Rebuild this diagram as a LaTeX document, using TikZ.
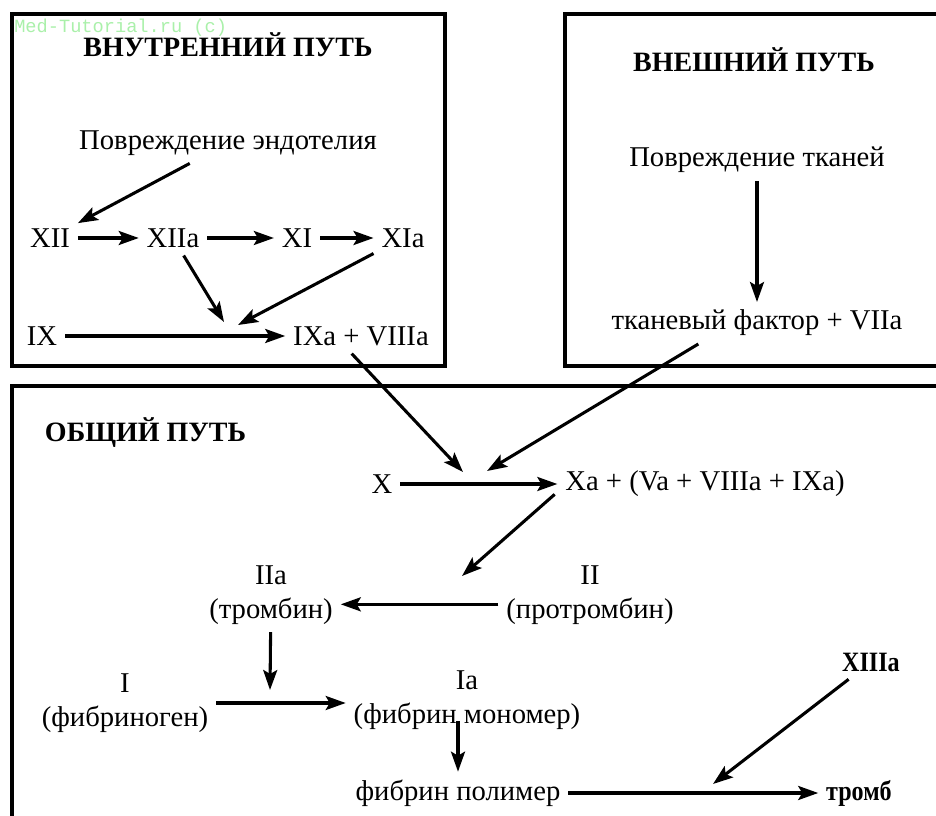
\documentclass[tikz,border=0pt]{standalone}
\usepackage{fontspec}
\setmainfont{Liberation Serif}
\newfontfamily\markfont{Liberation Mono}
\newfontfamily\narrowfont[FakeStretch=0.86]{Liberation Serif}
\usetikzlibrary{arrows.meta}
\definecolor{markgreen}{RGB}{170,240,170}

\begin{document}
\begin{tikzpicture}[x=0.75pt,y=0.75pt,yscale=-1,xscale=1,
  txt/.style={inner sep=0pt,outer sep=6pt,align=center,font=\fontsize{21.5}{25}\selectfont},
  ttl/.style={txt,font=\fontsize{21}{25}\selectfont\bfseries},
  nbf/.style={txt,font=\narrowfont\fontsize{21}{25}\selectfont\bfseries},
  arr/.style={line width=2.3pt,-{Stealth[length=15pt,width=10.5pt,inset=3pt]}},
  frm/.style={line width=3.2pt}]
\clip (0,0) rectangle (936,816);

%Shape: Frames
\draw[frm] (12,14) rectangle (445,366);
\draw[frm] (565,14) rectangle (945,366);
\draw[frm] (12,386) rectangle (945,830);

% Text Node: intrinsic pathway
\node[ttl] (inTitle) at (228,45) {ВНУТРЕННИЙ ПУТЬ};
\node[txt] (endo) at (228,143) {Повреждение эндотелия};
\node[txt] (XII) at (50,238) {XII};
\node[txt] (XIIa) at (173,238) {XIIa};
\node[txt] (XI) at (297,238) {XI};
\node[txt] (XIa) at (403,238) {XIa};
\node[txt] (IX) at (42,336) {IX};
\node[txt] (IXa) at (361,336) {IXa + VIIIa};
\coordinate (jA) at (224,322);
\coordinate (jB) at (238,325);

% Text Node: extrinsic pathway
\node[ttl] (exTitle) at (754,60) {ВНЕШНИЙ ПУТЬ};
\node[txt] (tissue) at (757,160) {Повреждение тканей};
\node[txt] (TF) at (757,323) {тканевый фактор + VIIa};

% Text Node: common pathway
\node[ttl,anchor=west] (cmTitle) at (37,433) {ОБЩИЙ ПУТЬ};
\node[txt] (X) at (382,484) {X};
\node[txt] (Xa) at (705,484) {Xa + (Va + VIIIa + IXa)};
\coordinate (jX1) at (463,472);
\coordinate (jX2) at (487,471);
\node[txt] (IIa) at (271,595) {IIa\\(тромбин)};
\node[txt] (II) at (590,595) {II\\(протромбин)};
\coordinate (jII) at (462,576);
\node[txt] (I) at (125,703) {I\\(фибриноген)};
\node[txt] (Ia) at (467,700) {Ia\\(фибрин мономер)};
\coordinate (jI) at (270,690);
\node[txt] (poly) at (458,793) {фибрин полимер};
\node[nbf] (XIIIa) at (871,662) {XIIIa};
\node[nbf] (clot) at (859,793) {тромб};
\coordinate (jC) at (713,784);

%Straight Lines: intrinsic
\draw[arr] (endo) -- (XII);
\draw[arr] (XII) -- (XIIa);
\draw[arr] (XIIa) -- (XI);
\draw[arr] (XI) -- (XIa);
\draw[arr] (XIIa) -- (jA);
\draw[arr] (XIa) -- (jB);
\draw[arr] (IX) -- (IXa);
%Straight Lines: extrinsic
\draw[arr] (tissue) -- (TF);
%Straight Lines: common
\draw[arr] ([xshift=-7pt]IXa.south) -- (jX1);
\draw[arr] ([xshift=-44pt]TF.south) -- (jX2);
\draw[arr] (X) -- (Xa);
\draw[arr] ([xshift=-2pt,yshift=-8pt]Xa.south west) -- (jII);
\draw[arr] ([yshift=7pt]II.west) -- ([yshift=7pt]IIa.east);
\draw[arr] (IIa) -- (jI);
\draw[arr] (I.east) -- (I.east -| Ia.west);
\draw[arr,shorten <=-12pt] (Ia.south -| poly.north) -- (poly);
\draw[arr] (poly) -- (clot);
\draw[arr] (XIIIa) -- (jC);

% Text Node: watermark
\node[anchor=west,inner sep=0pt,text=markgreen,font=\markfont\fontsize{14}{16}\selectfont] (mark) at (14,28) {Med-Tutorial.ru (c)};

\end{tikzpicture}
\end{document}
